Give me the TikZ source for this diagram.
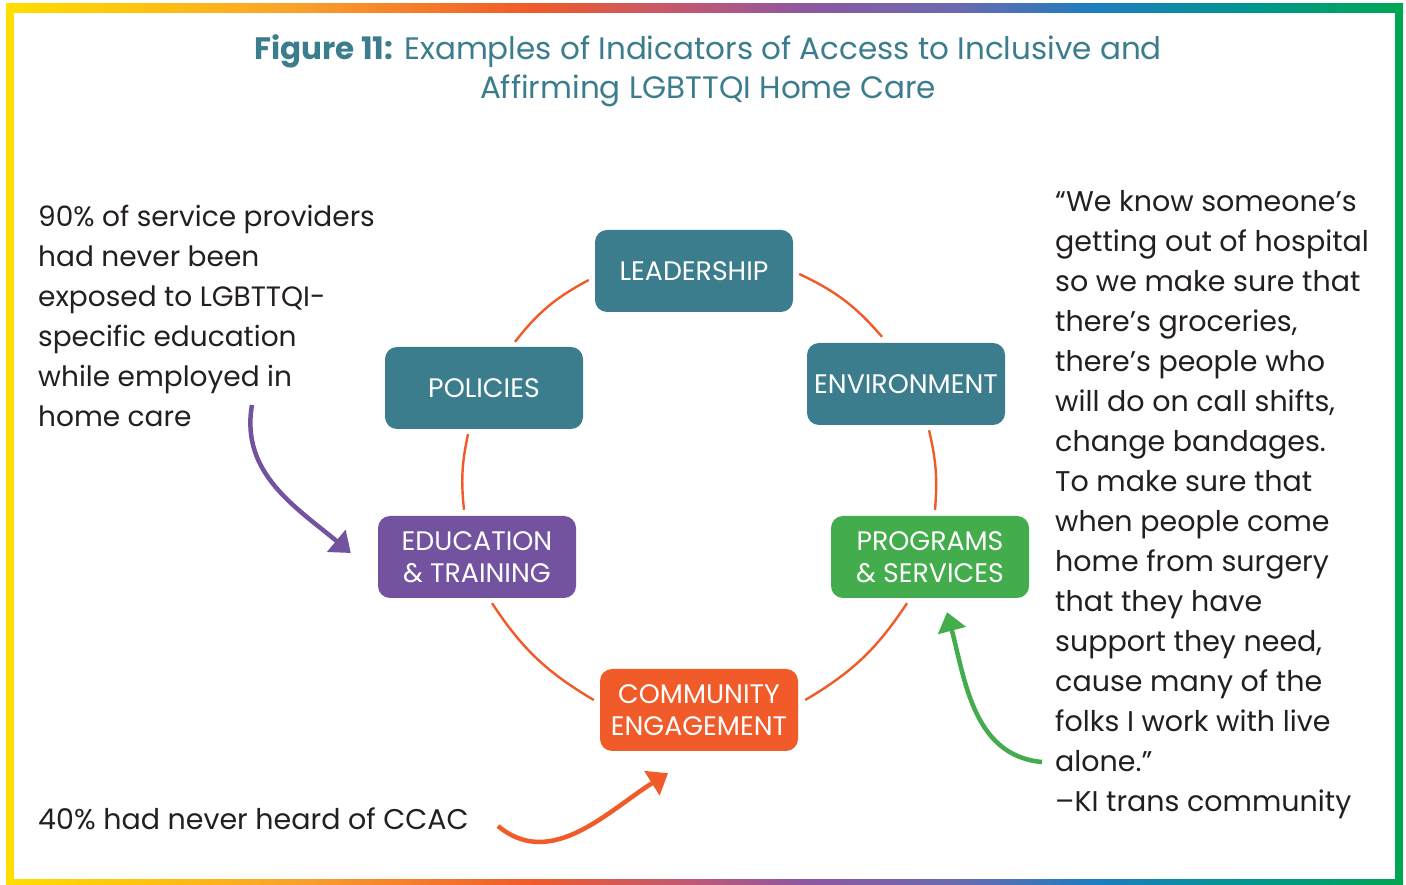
\documentclass[tikz,border=0pt]{standalone}
\usepackage{fontspec}
\setmainfont{Poppins}
\usetikzlibrary{arrows.meta,calc}
\definecolor{myteal}{HTML}{3B7D8C}
\definecolor{mypurple}{HTML}{7352A0}
\definecolor{mygreen}{HTML}{43AC4C}
\definecolor{myorange}{HTML}{F15A29}
\definecolor{mytext}{HTML}{231F20}
\definecolor{rb0}{HTML}{FFDE00}
\definecolor{rb1}{HTML}{FEC20F}
\definecolor{rb2}{HTML}{F9A02B}
\definecolor{rb3}{HTML}{F15A29}
\definecolor{rb4}{HTML}{BA587A}
\definecolor{rb5}{HTML}{8E57A0}
\definecolor{rb6}{HTML}{6A6AB0}
\definecolor{rb7}{HTML}{1C7DC0}
\definecolor{rb8}{HTML}{00968F}
\definecolor{rb9}{HTML}{00A651}
\pgfdeclarehorizontalshading{rainbow}{100bp}{color(0bp)=(rb0); color(25bp)=(rb0); color(30bp)=(rb1); color(35.5bp)=(rb2); color(43.75bp)=(rb3); color(50bp)=(rb4); color(53.5bp)=(rb5); color(59bp)=(rb6); color(64bp)=(rb7); color(69.5bp)=(rb8); color(75bp)=(rb9); color(100bp)=(rb9)}
\tikzset{
  box/.style={rounded corners=12pt, minimum width=198pt, minimum height=82pt, inner sep=0pt, text=white, font=\fontsize{26.8}{32}\selectfont, align=center},
  conn/.style={draw=myorange, line width=2.4pt},
  bigarrow/.style={line width=4.5pt, -{Triangle[length=19pt,width=28pt]}},
  bodytext/.style={text=mytext, font=\fontsize{28.5}{40}\selectfont, align=left, inner sep=0pt},
}
\begin{document}
\begin{tikzpicture}[x=1pt,y=1pt]
\useasboundingbox (0,0) rectangle (1406,884);
\fill[white] (0,0) rectangle (1406,884);
% frame
\shade[shading=rainbow] (6,871) rectangle (1403,880);
\shade[shading=rainbow] (6,0) rectangle (1403,5);
\fill[rb0] (6,0) rectangle (14,880);
\fill[rb9] (1395,0) rectangle (1403,880);
% title
\node[text=myteal, font=\fontsize{31}{39}\selectfont, align=center] (title) at (708,813)
  {\textbf{Figure 11:} Examples of Indicators of Access to Inclusive and\\Affirming LGBTTQI Home Care};
% boxes
\node[box, fill=myteal] (lead) at (694,613) {LEADERSHIP};
\node[box, fill=myteal] (pol) at (484,496) {POLICIES};
\node[box, fill=myteal] (env) at (906,500) {ENVIRONMENT};
\node[box, fill=mypurple] (edu) at (477,327) {EDUCATION\\\& TRAINING};
\node[box, fill=mygreen] (prog) at (930,327) {PROGRAMS\\\& SERVICES};
\node[box, fill=myorange] (comm) at (699,174) {COMMUNITY\\ENGAGEMENT};
% ring connectors
\draw[conn] ($(lead.west)+(-6,-9)$) to[bend right=12] ($(pol.north)+(31,5)$);
\draw[conn] ($(lead.east)+(6,-3)$) to[bend left=12] ($(env.north)+(-24,6)$);
\draw[conn] ($(pol.south)+(-16,-5)$) to[bend right=9] ($(edu.north)+(-13,6)$);
\draw[conn] ($(env.south)+(23,-5)$) to[bend left=9] ($(prog.north)+(5,6)$);
\draw[conn] ($(edu.south)+(15,-5)$) to[bend right=13] ($(comm.west)+(-6,10)$);
\draw[conn] ($(prog.south)+(-23,-5)$) to[bend left=13] ($(comm.east)+(7,10)$);
% texts (base anchor = baseline of last line)
\node[bodytext, font=\fontsize{28}{40}\selectfont, anchor=base west] (left) at (38,457)
  {90\% of service providers\\had never been\\exposed to LGBTTQI-\\specific education\\while employed in\\home care};
\node[bodytext, anchor=base west] (quote) at (1055,73)
  {“We know someone’s\\getting out of hospital\\so we make sure that\\there’s groceries,\\there’s people who\\will do on call shifts,\\change bandages.\\To make sure that\\when people come\\home from surgery\\that they have\\support they need,\\cause many of the\\folks I work with live\\alone.”\\–KI trans community};
\node[bodytext, anchor=base west] (ccac) at (38,55) {40\% had never heard of CCAC};
% arrows
\coordinate (ptail) at (252,479);
\coordinate (otail) at (498,58);
\coordinate (gtail) at (1042,122);
\draw[bigarrow, mypurple] (ptail) to[out=-100, in=140] ($(edu.west)+(-27,4)$);
\draw[bigarrow, myorange] (otail) to[out=-40, in=212] ($(comm.south)+(-31,-22)$);
\draw[bigarrow, mygreen] (gtail) to[out=175, in=-75] ($(prog.south)+(17,-14)$);
\end{tikzpicture}
\end{document}
